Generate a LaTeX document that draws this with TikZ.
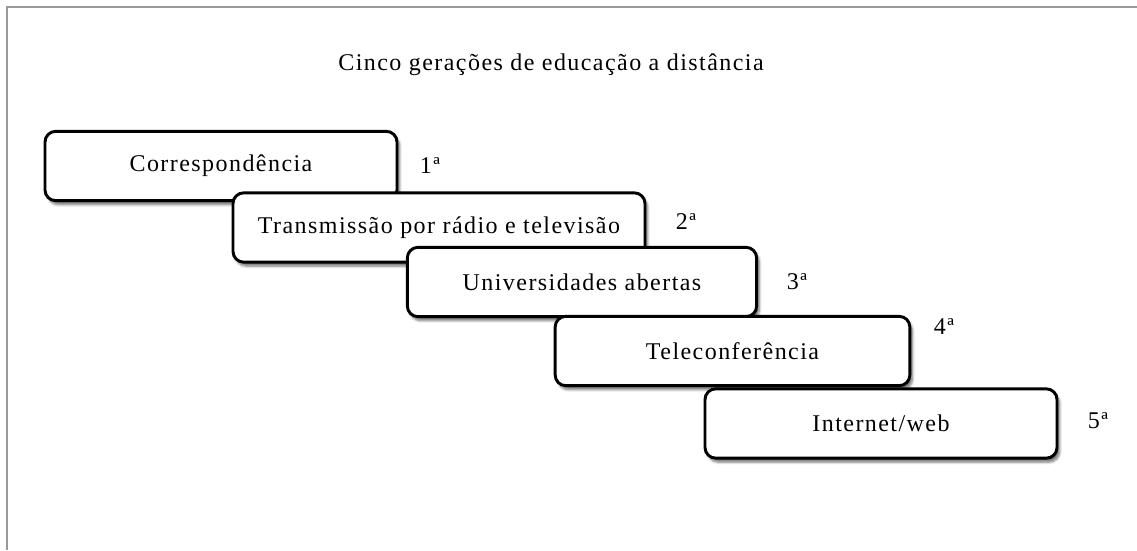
\documentclass[tikz,border=0pt]{standalone}
\usepackage{fontspec}
\setmainfont{Liberation Serif}[LetterSpace=6]
\usetikzlibrary{shadows.blur}

\tikzset{
    geracao/.style={draw=black,line width=2.2pt,rounded corners=8pt,fill=white,
        blur shadow={shadow xshift=2pt,shadow yshift=-3pt,shadow blur steps=6,shadow opacity=55},
        minimum height=52pt,inner sep=0pt,font=\fontsize{18}{21}\selectfont},
    ordem/.style={font=\fontsize{18}{21}\selectfont}
}

\begin{document}
\begin{tikzpicture}[x=0.75pt,y=-0.75pt]
    \useasboundingbox (0,0) rectangle (1137,550);
    % moldura da pagina
    \draw [color=black!40,line width=1pt] (7,550) -- (7,7) -- (1137,7);
    \node (titulo) at (551,65) {\fontsize{18}{21}\selectfont Cinco gerações de educação a distância};
    % caixas das geracoes
    \node [geracao,minimum width=264pt] (g1) at (221,166) {Correspondência};
    \node [geracao,minimum width=309pt] (g2) at (439,227.5) {Transmissão por rádio e televisão};
    \node [geracao,minimum width=262pt] (g3) at (582,282) {Universidades abertas};
    \node [geracao,minimum width=266pt] (g4) at (732.5,351) {Teleconferência};
    \node [geracao,minimum width=264pt] (g5) at (881,423.5) {Internet/web};
    % numeracao
    \node [ordem] (n1) at (430,166) {1ª};
    \node [ordem] (n2) at (686,222) {2ª};
    \node [ordem] (n3) at (797,282) {3ª};
    \node [ordem] (n4) at (944,327) {4ª};
    \node [ordem] (n5) at (1098,421) {5ª};
\end{tikzpicture}
\end{document}
